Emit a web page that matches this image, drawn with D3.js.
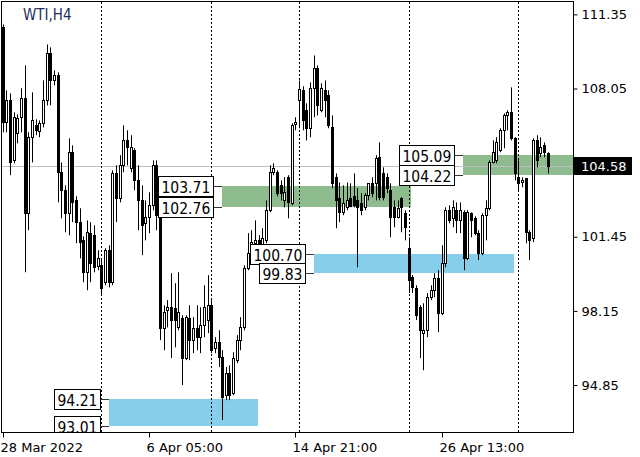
<!DOCTYPE html>
<html><head><meta charset="utf-8">
<script src="https://cdn.jsdelivr.net/npm/d3@7"></script>
<style>
body{margin:0;background:#fff;}
svg{display:block;}
.ax text{font-family:"DejaVu Sans",sans-serif;font-size:13px;fill:#000;}
.lbl{font-family:"DejaVu Sans Condensed","DejaVu Sans",sans-serif;font-stretch:condensed;font-size:15.5px;fill:#000;}
</style></head><body>
<svg id="chart" width="640" height="457"></svg>
<script>
// ---- data (WTI, H4) ----
const opens  = [110.77,106.54,107.52,104.85,106.05,106.77,107.61,102.50,105.88,106.41,106.14,106.50,107.52,109.61,108.41,108.63,104.32,103.52,102.50,105.21,103.07,102.10,101.29,99.87,101.61,101.52,100.14,100.18,99.43,100.85,99.43,104.27,103.16,104.63,105.74,104.50,105.30,103.96,103.07,102.05,102.32,102.85,104.63,102.41,97.38,98.18,98.31,98.27,97.42,97.82,96.05,97.82,96.85,97.38,96.98,97.51,97.74,98.40,96.49,96.76,96.09,94.40,95.38,94.49,95.96,96.85,97.42,100.05,100.72,101.16,101.29,101.07,101.29,102.63,104.32,104.32,103.74,103.07,104.10,102.94,106.45,107.52,107.97,107.08,106.28,108.06,108.95,107.08,107.97,107.74,106.32,104.10,103.16,102.54,102.76,103.16,103.25,103.07,102.94,102.76,103.30,103.83,103.83,104.99,104.27,104.10,103.52,102.76,102.32,103.16,102.50,100.94,99.65,99.16,98.31,97.16,97.29,98.76,99.07,99.60,98.05,100.27,102.63,102.27,102.63,102.18,102.54,100.49,102.50,102.27,101.61,100.72,102.41,102.72,104.76,104.85,105.30,106.19,106.85,106.99,105.83,104.10,103.87,104.05,101.65,101.38,105.74,105.16,105.52,105.16];
const highs  = [110.90,107.97,107.83,106.99,106.90,108.06,109.08,106.10,107.88,106.68,106.63,108.41,110.01,109.88,108.86,108.77,104.76,103.74,105.83,105.52,103.25,102.72,101.47,102.18,102.10,101.96,100.85,100.49,100.94,101.07,104.41,104.63,105.08,106.41,106.19,105.97,105.39,104.63,103.74,103.07,103.43,104.85,104.85,102.50,98.40,98.63,99.83,99.38,99.87,97.96,97.96,98.40,97.87,98.40,98.31,99.29,99.74,98.63,96.98,97.29,96.40,95.65,95.73,96.31,97.07,97.87,100.18,101.61,101.74,102.18,101.52,101.83,103.07,104.63,104.72,104.41,103.96,104.10,104.19,106.50,106.77,108.41,108.15,107.39,108.32,109.52,109.08,108.28,108.41,107.97,106.85,104.27,103.87,103.74,103.87,103.83,104.27,103.61,103.39,103.39,103.83,104.10,105.08,105.65,104.54,104.27,103.83,103.07,103.07,103.21,102.63,101.43,99.74,99.29,98.40,98.49,98.94,99.29,99.83,99.96,101.07,102.76,102.85,103.07,102.98,102.98,102.63,102.63,102.54,102.36,101.74,102.50,103.07,104.85,105.74,105.88,106.28,106.94,107.08,108.10,105.88,104.85,104.10,104.05,101.74,105.83,105.97,105.88,105.65,105.21];
const lows   = [106.10,106.10,104.19,104.72,105.61,106.10,99.87,101.74,104.76,105.97,105.88,106.32,107.30,107.30,108.19,102.98,102.27,101.65,101.52,102.10,101.16,100.49,99.43,99.07,99.43,99.87,99.96,98.85,99.29,99.20,99.29,102.10,102.98,104.32,104.63,104.32,103.52,101.74,100.63,101.29,101.61,102.63,101.74,96.85,96.40,97.42,96.05,96.53,97.29,94.85,95.96,95.96,96.27,96.40,96.27,96.98,97.16,96.27,96.27,95.65,93.29,94.18,94.18,94.40,95.82,96.40,97.29,99.96,100.54,100.94,100.41,100.76,101.16,102.54,104.19,103.25,103.07,102.76,102.27,102.85,106.19,106.28,106.19,105.74,105.88,106.77,106.85,106.99,106.77,106.28,103.61,101.83,102.10,102.41,102.63,102.76,102.76,100.09,102.41,102.63,103.07,103.21,103.07,103.07,103.07,103.39,101.43,101.87,102.27,101.65,101.29,98.94,98.94,97.74,96.05,95.51,96.98,98.63,98.76,97.20,97.96,100.09,102.05,101.87,101.61,101.61,99.96,100.41,101.43,101.52,100.41,100.63,101.29,102.63,104.72,104.72,105.21,105.39,106.19,105.74,103.96,103.52,103.65,101.16,100.41,101.21,104.54,104.99,104.99,104.27];
const closes = [106.54,107.52,104.76,106.77,106.72,107.61,102.50,105.88,106.63,106.19,106.50,107.52,109.61,108.41,108.63,104.32,103.52,102.50,105.21,102.98,102.10,101.21,99.87,101.65,100.27,100.09,100.49,99.16,100.85,99.43,104.27,103.16,104.63,105.74,105.43,105.43,103.96,103.07,101.96,102.32,102.85,104.63,102.41,97.38,98.09,98.31,97.74,97.74,98.09,96.05,97.87,96.85,97.38,96.98,97.51,98.31,98.40,96.40,96.76,96.09,94.31,95.38,94.40,96.05,96.85,97.42,100.05,100.72,101.21,101.29,101.12,101.38,102.63,104.32,104.50,103.39,103.39,103.43,102.98,106.41,106.54,108.01,106.63,106.28,108.06,108.95,107.30,108.06,107.52,106.41,103.83,103.07,102.54,102.94,103.07,102.81,102.85,102.76,102.63,103.30,103.83,103.39,104.94,103.21,103.21,103.61,102.32,102.32,102.72,102.76,101.87,99.52,99.20,97.96,97.29,97.29,98.76,99.07,99.60,98.05,100.27,102.63,102.18,102.76,102.18,102.63,100.49,102.54,102.18,101.61,100.72,102.41,102.72,104.76,105.21,105.65,106.19,106.85,106.99,105.83,104.27,103.83,103.96,101.65,101.29,105.74,104.85,105.43,105.21,104.58];

const yTickValues = [111.35, 108.05, 101.45, 98.15, 94.85];
const xTickIndex  = [0, 40, 80, 120];
const xTickLabels = ["28 Mar 2022", "6 Apr 05:00", "14 Apr 21:00", "26 Apr 13:00"];
const separatorIndex = [27, 57, 81, 111, 141];

const zoneTop    = [94.21, 103.71, 100.70, 105.09];
const zoneBottom = [93.01, 102.76, 99.83, 104.22];
const zoneStart  = [28.9, 59.8, 85.0, 125.7];
const zoneEnd    = [69.7, 111.5, 139.6, 160];
const zoneKind   = ["blue", "green", "blue", "green"];

const currentPrice = 104.58;
const title = "WTI,H4";

// ---- layout ----
const L = 2, R = 573, T = 2, B = 432;
const svg = d3.select("#chart");
const x = d3.scaleLinear().domain([0, 149]).range([3.2, 548.2]);
const y = d3.scaleLinear().domain([92.76, 111.90]).range([B, T]);
const zoneColor = {blue: "#87ceeb", green: "#8fbc8f"};

svg.append("defs").append("clipPath").attr("id", "plot")
  .append("rect").attr("x", L).attr("y", T).attr("width", R - L).attr("height", B - T);

const plot = svg.append("g").attr("clip-path", "url(#plot)");

// zones
const zones = zoneTop.map((t, i) => ({t, b: zoneBottom[i], s: zoneStart[i], e: zoneEnd[i], k: zoneKind[i]}));
plot.selectAll("rect.zone").data(zones).enter().append("rect").attr("class", "zone")
  .attr("x", d => Math.round(x(d.s)))
  .attr("y", d => Math.round(y(d.t)))
  .attr("width", d => Math.round(x(d.e)) - Math.round(x(d.s)))
  .attr("height", d => Math.round(y(d.b)) - Math.round(y(d.t)))
  .attr("fill", d => zoneColor[d.k]);

// current price line
plot.append("line").attr("x1", L).attr("x2", R)
  .attr("y1", Math.round(y(currentPrice)) + 0.5).attr("y2", Math.round(y(currentPrice)) + 0.5)
  .attr("stroke", "#c0c0c0").attr("stroke-width", 1);

// separators
plot.selectAll("line.sep").data(separatorIndex).enter().append("line").attr("class", "sep")
  .attr("x1", d => Math.floor(x(d)) + 0.5).attr("x2", d => Math.floor(x(d)) + 0.5)
  .attr("y1", T).attr("y2", B)
  .attr("stroke", "#000").attr("stroke-width", 1).attr("stroke-dasharray", "2,2");

// candles
const candles = opens.map((o, i) => ({i, o, h: highs[i], l: lows[i], c: closes[i]}));
const cg = plot.selectAll("g.candle").data(candles).enter().append("g").attr("class", "candle");
cg.append("line")
  .attr("x1", d => Math.floor(x(d.i)) + 0.5).attr("x2", d => Math.floor(x(d.i)) + 0.5)
  .attr("y1", d => y(d.h)).attr("y2", d => y(d.l))
  .attr("stroke", "#000").attr("stroke-width", 1);
cg.append("rect")
  .attr("x", d => Math.floor(x(d.i)) - 0.5)
  .attr("width", 2)
  .attr("y", d => Math.round(y(Math.max(d.o, d.c))) + 0.5)
  .attr("height", d => Math.max(0, Math.round(y(Math.min(d.o, d.c))) - Math.round(y(Math.max(d.o, d.c)))))
  .attr("fill", d => d.c >= d.o ? "#fff" : "#000")
  .attr("stroke", "#000").attr("stroke-width", 1);

// zone labels
const lblData = [];
zones.forEach(z => {
  lblData.push({v: z.t, xr: Math.round(x(z.s))});
  lblData.push({v: z.b, xr: Math.round(x(z.s))});
});
const lg = plot.selectAll("g.zl").data(lblData).enter().append("g").attr("class", "zl");
lg.each(function(d) {
  const g = d3.select(this);
  const yy = Math.round(y(d.v)) + 0.5;
  const boxR = d.xr - 9;
  const t = g.append("text").attr("class", "lbl").text(d3.format(".2f")(d.v))
    .attr("dominant-baseline", "central");
  const w = t.node().getComputedTextLength();
  const boxL = Math.round(boxR - w - 6);
  g.insert("rect", "text").attr("x", boxL + 0.5).attr("y", yy - 10)
    .attr("width", boxR - boxL).attr("height", 20)
    .attr("fill", "#fff").attr("stroke", "#000").attr("stroke-width", 1);
  t.attr("x", boxL + 3.5).attr("y", yy + 1);
  g.append("line").attr("x1", boxR + 0.5).attr("x2", d.xr).attr("y1", yy).attr("y2", yy)
    .attr("stroke", "#333").attr("stroke-width", 1);
});

// frame
svg.append("rect").attr("x", L - 0.5).attr("y", T - 0.5).attr("width", R - L + 1).attr("height", B - T + 1)
  .attr("fill", "none").attr("stroke", "#000").attr("stroke-width", 1);

// right axis
const ya = svg.append("g").attr("class", "ax").attr("transform", `translate(${R + 0.5},0)`)
  .call(d3.axisRight(y).tickValues(yTickValues).tickSize(4).tickSizeOuter(0).tickPadding(4).tickFormat(d3.format(".2f")));
ya.select(".domain").remove();
ya.selectAll("line").attr("stroke", "#000");

// current price badge
const cy = Math.round(y(currentPrice));
svg.append("rect").attr("x", R + 1).attr("y", cy - 9).attr("width", 58).attr("height", 18).attr("fill", "#000");
svg.append("text").attr("x", R + 8).attr("y", cy).attr("dominant-baseline", "central")
  .attr("font-family", "DejaVu Sans, sans-serif").attr("font-size", 13).attr("fill", "#fff")
  .text(d3.format(".2f")(currentPrice));

// bottom axis
const xa = svg.append("g").attr("class", "ax").attr("transform", `translate(0,${B + 0.5})`)
  .call(d3.axisBottom(x).tickValues(xTickIndex).tickSize(5).tickSizeOuter(0).tickPadding(5)
    .tickFormat((d, i) => xTickLabels[i]));
xa.select(".domain").remove();
xa.selectAll("line").attr("stroke", "#000");
xa.selectAll("text").attr("text-anchor", "start").attr("dx", -3);
xa.selectAll(".tick").attr("transform", d => `translate(${Math.floor(x(d)) + 0.5},0)`);

// title
svg.append("text").attr("x", 23).attr("y", 20).attr("font-family", "DejaVu Sans Condensed, DejaVu Sans, sans-serif")
  .attr("font-stretch", "condensed").attr("font-size", 15).attr("fill", "#1b2f5a").text(title);
</script>
</body></html>
